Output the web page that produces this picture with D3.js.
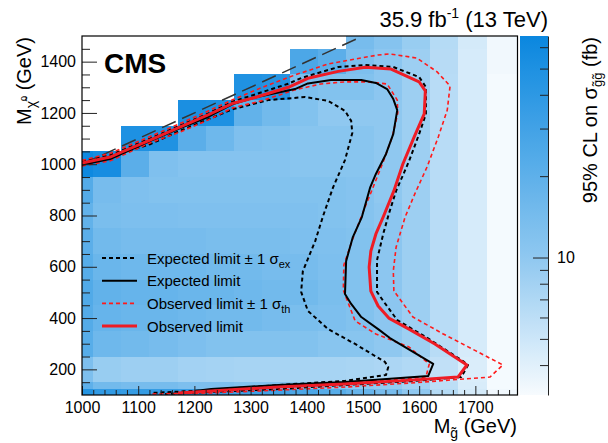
<!DOCTYPE html>
<html>
<head>
<meta charset="utf-8">
<script src="https://cdn.jsdelivr.net/npm/d3@7"></script>
<style>
body { margin: 0; background: #fff; }
text { font-family: "Liberation Sans", Arial, Helvetica, sans-serif; fill: #000; }
</style>
</head>
<body>
<svg id="chart" width="608" height="443"></svg>
<script>
// bin edges of the limit map (GeV)
const gluinoEdges = [1000, 1020, 1070, 1120, 1170, 1220, 1270, 1320, 1370, 1420, 1470, 1520, 1570, 1620, 1670, 1720, 1775];
const neutralinoEdges = [100, 125, 150, 250, 350, 450, 550, 650, 750, 850, 950, 1050, 1150, 1250, 1350, 1450, 1500];

// 95% CL upper limit on the cross section (fb), one row per neutralino bin, bottom to top
const n = null;
const limitRows = [
  [45, 38, 36, 36, 35, 34, 32, 30, 26, 22, 18, 14, 10, 6.5, 4.6, 3.3],
  [20, 15, 14, 14, 13, 13, 12, 12, 11, 11, 10, 9.5, 8, 6, 4.4, 3.2],
  [13, 9, 8.5, 8.5, 8, 7.8, 7.6, 7.6, 7.6, 7.6, 7.5, 7.2, 6.8, 5.7, 4.3, 3.2],
  [22, 16, 15, 14, 13, 12, 12, 12, 12, 11, 11, 10, 8.5, 6.3, 4.5, 3.2],
  [23, 18, 17, 17, 16, 15, 15, 14, 13.5, 13, 12, 10.5, 8.5, 6.3, 4.5, 3.2],
  [24, 19, 18, 18, 17, 17, 16, 15, 15, 13.5, 12, 10.5, 8.5, 6.3, 4.5, 3.2],
  [22, 17, 16, 16, 16, 15, 15, 14, 14, 13, 12, 10.5, 8.5, 6.3, 4.5, 3.2],
  [21, 15, 14, 14, 14, 13.5, 13.5, 13.5, 13, 12.5, 12, 10.5, 8.5, 6.3, 4.5, 3.2],
  [19, 13.5, 13, 13, 12.5, 12.5, 12.5, 12.5, 12.5, 12, 11.5, 10.5, 8.5, 6.3, 4.5, 3.2],
  [23, 14, 12.5, 12, 12, 12, 12, 12, 12, 12, 11.5, 10, 8.5, 6.3, 4.5, 3.2],
  [62, 55, 21, 12.5, 11.5, 11.5, 11.5, 11.5, 11, 11, 11, 10, 8.5, 6.3, 4.5, 3.2],
  [n, n, 50, 48, 21, 16, 12.5, 12, 11, 11, 11, 10, 8.5, 6.3, 4.5, 3.2],
  [n, n, n, n, 52, 50, 19, 15, 12, 10, 10, 10, 8.5, 6.3, 4.5, 3.2],
  [n, n, n, n, n, n, 48, 45, 13, 12, 12, 10.5, 8.5, 6.3, 4.5, 3.2],
  [n, n, n, n, n, n, n, n, 26, 21, 13, 10.5, 8.5, 6.4, 4.5, 3.3],
  [n, n, n, n, n, n, n, n, n, n, 14, 11.5, 9, 6.5, 4.6, 3.3]
];

// contours [M_gluino, M_neutralino]
const observed = [[1000,1005],[1050,1028],[1068,1045],[1121,1094],[1174,1145],[1222,1190],[1269,1238],[1308,1260],[1367,1300],[1402,1335],[1456,1362],[1504,1378],[1550,1371],[1600,1321],[1611,1286],[1609,1196],[1591,1106],[1571,1001],[1555,896],[1536,794],[1523,728],[1514,661],[1511,599],[1514,505],[1527,447],[1546,400],[1582,357],[1628,299],[1685,217],[1669,170],[1586,158],[1468,143],[1349,131],[1230,116],[1171,108]];
const observedUp = [[1000,1015],[1050,1042],[1121,1108],[1174,1158],[1222,1205],[1269,1252],[1319,1298],[1379,1348],[1438,1391],[1486,1410],[1527,1426],[1548,1430],[1596,1414],[1632,1360],[1655,1305],[1650,1211],[1634,1106],[1614,989],[1593,888],[1575,794],[1559,677],[1554,584],[1555,506],[1589,404],[1643,338],[1701,272],[1749,217],[1726,170],[1586,147],[1468,131],[1349,119],[1230,108],[1123,104]];
const observedDown = [[1000,993],[1050,1013],[1121,1083],[1174,1125],[1222,1170],[1269,1220],[1319,1247],[1379,1290],[1425,1313],[1468,1321],[1509,1321],[1543,1313],[1561,1250],[1562,1200],[1552,1106],[1536,1009],[1516,899],[1498,802],[1481,704],[1466,607],[1465,509],[1486,389],[1523,338],[1582,287],[1618,221],[1612,170],[1468,147],[1349,131],[1230,116],[1166,104]];
const expected = [[1000,998],[1050,1020],[1121,1090],[1174,1140],[1222,1182],[1269,1235],[1304,1258],[1379,1293],[1402,1315],[1443,1328],[1497,1328],[1523,1317],[1543,1293],[1554,1254],[1561,1211],[1554,1118],[1541,1040],[1523,962],[1513,911],[1498,794],[1482,716],[1470,622],[1468,494],[1479,455],[1497,404],[1527,357],[1548,322],[1625,221],[1616,174],[1468,151],[1349,139],[1230,123],[1201,116]];
const expectedUp = [[1000,1012],[1050,1035],[1121,1100],[1174,1150],[1222,1195],[1269,1245],[1308,1272],[1367,1314],[1390,1336],[1456,1379],[1504,1387],[1554,1379],[1600,1340],[1612,1301],[1612,1196],[1600,1118],[1582,1012],[1559,896],[1546,806],[1536,728],[1525,626],[1525,502],[1536,467],[1561,392],[1612,326],[1678,232],[1687,217],[1675,170],[1586,154],[1468,139],[1349,123],[1230,112],[1148,104]];
const expectedDown = [[1000,995],[1121,1078],[1174,1130],[1269,1215],[1331,1250],[1397,1262],[1438,1247],[1468,1208],[1479,1169],[1481,1122],[1468,1016],[1447,911],[1429,798],[1415,700],[1393,583],[1390,502],[1402,428],[1438,357],[1486,299],[1539,229],[1545,209],[1541,178],[1468,155],[1349,139],[1230,119],[1123,108]];
const diagonal = [[1000,1000],[1490,1490]];

const xTicks = [1000, 1100, 1200, 1300, 1400, 1500, 1600, 1700];
const yTicks = [200, 400, 600, 800, 1000, 1200, 1400];
const zTicks = [10];
const zMinorTicks = [4, 5, 6, 7, 8, 9, 20, 30, 40, 50, 60];

const svg = d3.select('#chart');
const x = d3.scaleLinear().domain([1000, 1775]).range([82, 517.5]);
const y = d3.scaleLinear().domain([100, 1500]).range([395, 36]);
const zScale = d3.scaleLog().domain([3.1, 66]).range([395, 36]);
const color = d3.scaleLog()
  .domain([3.1, 10, 66])
  .range(['#f7fbfe', '#8fc8f0', '#0a87df'])
  .clamp(true);

svg.append('defs').append('clipPath').attr('id', 'clip')
  .append('rect')
  .attr('x', x(1000)).attr('y', y(1500))
  .attr('width', x(1775) - x(1000)).attr('height', y(100) - y(1500));

const plot = svg.append('g');

plot.append('rect')
  .attr('x', x(1000)).attr('y', y(1500))
  .attr('width', x(1775) - x(1000)).attr('height', y(100) - y(1500))
  .attr('fill', '#fff');

let cells = [];
limitRows.forEach((row, i) => row.forEach((v, j) => {
  if (v != null) cells.push({ i, j, v });
}));

plot.selectAll('rect.cell')
  .data(cells)
  .enter()
  .append('rect')
  .attr('class', 'cell')
  .attr('x', d => x(gluinoEdges[d.j]))
  .attr('y', d => y(neutralinoEdges[d.i + 1]))
  .attr('width', d => x(gluinoEdges[d.j + 1]) - x(gluinoEdges[d.j]))
  .attr('height', d => y(neutralinoEdges[d.i]) - y(neutralinoEdges[d.i + 1]))
  .attr('fill', d => color(d.v))
  .attr('shape-rendering', 'crispEdges');

const line = d3.line().x(d => x(d[0])).y(d => y(d[1]));
const curves = plot.append('g').attr('clip-path', 'url(#clip)');

curves.append('path').attr('d', line(diagonal))
  .attr('fill', 'none').attr('stroke', '#333').attr('stroke-width', 1.5)
  .attr('stroke-dasharray', '15,7');

const styles = {
  expBand: { stroke: '#000', width: 2, dash: '4,3' },
  exp: { stroke: '#000', width: 2, dash: null },
  obsBand: { stroke: '#ff1a1a', width: 1.6, dash: '4,3' },
  obs: { stroke: '#ee1c25', width: 3, dash: null }
};

function drawCurve(pts, s) {
  curves.append('path').attr('d', line(pts))
    .attr('fill', 'none')
    .attr('stroke', s.stroke)
    .attr('stroke-width', s.width)
    .attr('stroke-dasharray', s.dash)
    .attr('stroke-linejoin', 'round');
}
drawCurve(expectedUp, styles.expBand);
drawCurve(expectedDown, styles.expBand);
drawCurve(observedUp, styles.obsBand);
drawCurve(observedDown, styles.obsBand);
drawCurve(expected, styles.exp);
drawCurve(observed, styles.obs);

// axes, ROOT style ticks pointing inwards
function styleAxis(g) {
  g.select('.domain').remove();
  g.selectAll('line').attr('stroke', '#222');
  g.selectAll('text').attr('font-size', 16).attr('font-family', '"Liberation Sans", Arial, sans-serif');
}

svg.append('g')
  .attr('transform', `translate(0,${y(100)})`)
  .call(d3.axisBottom(x).tickValues(d3.range(1020, 1775, 20).filter(v => v % 100)).tickSize(-5).tickFormat(''))
  .call(styleAxis);
svg.append('g')
  .attr('transform', `translate(0,${y(100)})`)
  .call(d3.axisBottom(x).tickValues(xTicks).tickSize(-9).tickPadding(7).tickFormat(d3.format('d')))
  .call(styleAxis);

svg.append('g')
  .attr('transform', `translate(${x(1000)},0)`)
  .call(d3.axisLeft(y).tickValues(d3.range(150, 1500, 50).filter(v => v % 200)).tickSize(-8).tickFormat(''))
  .call(styleAxis);
svg.append('g')
  .attr('transform', `translate(${x(1000)},0)`)
  .call(d3.axisLeft(y).tickValues(yTicks).tickSize(-15).tickPadding(6).tickFormat(d3.format('d')))
  .call(styleAxis);

svg.append('rect')
  .attr('x', x(1000)).attr('y', y(1500))
  .attr('width', x(1775) - x(1000)).attr('height', y(100) - y(1500))
  .attr('fill', 'none').attr('stroke', '#000').attr('stroke-width', 1.2);

// colour bar
const grad = svg.select('defs').append('linearGradient')
  .attr('id', 'zgrad').attr('x1', 0).attr('y1', 1).attr('x2', 0).attr('y2', 0);
d3.range(0, 1.0001, 0.05).forEach(t => {
  const v = zScale.invert(395 - t * (395 - 36));
  grad.append('stop').attr('offset', t).attr('stop-color', color(v));
});
svg.append('rect')
  .attr('x', 520).attr('y', 36).attr('width', 28).attr('height', 359)
  .attr('fill', 'url(#zgrad)');

svg.append('g')
  .attr('transform', 'translate(548,0)')
  .call(d3.axisRight(zScale).tickValues(zMinorTicks).tickSize(-8).tickSizeOuter(0).tickFormat(''))
  .call(g => g.select('.domain').attr('stroke', '#222'))
  .call(g => g.selectAll('line').attr('stroke', '#222'));
svg.append('g')
  .attr('transform', 'translate(548,0)')
  .call(d3.axisRight(zScale).tickValues(zTicks).tickSize(-15).tickPadding(9).tickFormat(d3.format('d')))
  .call(styleAxis);

// legend
const legendItems = [
  { label: 'Expected limit ± 1 σ', sub: 'ex', style: styles.expBand },
  { label: 'Expected limit', sub: null, style: styles.exp },
  { label: 'Observed limit ± 1 σ', sub: 'th', style: styles.obsBand },
  { label: 'Observed limit', sub: null, style: styles.obs }
];
const legend = svg.append('g');
legendItems.forEach((d, i) => {
  const ly = 258 + i * 22.7;
  legend.append('line')
    .attr('x1', 102).attr('x2', 137).attr('y1', ly).attr('y2', ly)
    .attr('stroke', d.style.stroke).attr('stroke-width', d.style.width)
    .attr('stroke-dasharray', d.style.dash);
  const t = legend.append('text').attr('x', 147).attr('y', ly + 5.5).attr('font-size', 15).text(d.label);
  if (d.sub) t.append('tspan').attr('font-size', 11).attr('dy', 4).text(d.sub);
});

// labels
svg.append('text').attr('x', 104).attr('y', 73)
  .attr('font-size', 28).attr('font-weight', 'bold').text('CMS');

const lumi = svg.append('text').attr('x', 548).attr('y', 27)
  .attr('text-anchor', 'end').attr('font-size', 22).text('35.9 fb');
lumi.append('tspan').attr('font-size', 14).attr('dy', -9).text('-1');
lumi.append('tspan').attr('dy', 9).text(' (13 TeV)');

const xTitle = svg.append('text').attr('x', 517).attr('y', 433)
  .attr('text-anchor', 'end').attr('font-size', 20).text('M');
xTitle.append('tspan').attr('font-size', 14).attr('dy', 5).text('g̃');
xTitle.append('tspan').attr('dy', -5).text(' (GeV)');

const yTitle = svg.append('text')
  .attr('transform', 'translate(31,37) rotate(-90)')
  .attr('text-anchor', 'end').attr('font-size', 20).text('M');
yTitle.append('tspan').attr('font-size', 14).attr('dy', 5).text('χ̃');
yTitle.append('tspan').attr('font-size', 9).attr('dy', -9).text('0');
yTitle.append('tspan').attr('dy', 4).text(' (GeV)');

const zTitle = svg.append('text')
  .attr('transform', 'translate(597,37) rotate(-90)')
  .attr('text-anchor', 'end').attr('font-size', 20).text('95% CL on σ');
zTitle.append('tspan').attr('font-size', 13).attr('dy', 5).text('g̃g̃');
zTitle.append('tspan').attr('dy', -5).text(' (fb)');
</script>
</body>
</html>
